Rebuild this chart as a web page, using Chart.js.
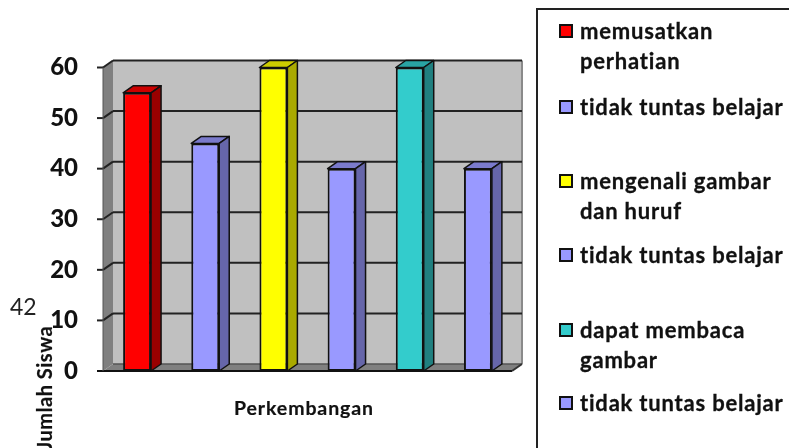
<!DOCTYPE html>
<html>
<head>
<meta charset="utf-8">
<style>
  html, body { margin: 0; padding: 0; background: #fff; }
  #wrap { position: relative; width: 789px; height: 448px; overflow: hidden; font-family: Lato, sans-serif; color: #111; filter: blur(0.4px); }
  #chart { position: absolute; left: 0; top: 0; }
  #legend { position: absolute; left: 536px; top: 8px; width: 300px; height: 500px; border: 2px solid #222; box-sizing: border-box; }
  .item { position: absolute; left: 580px; font-weight: 700; font-size: 22px; line-height: 30px; letter-spacing: 0.8px; white-space: pre; -webkit-text-stroke: 0.3px #111; }
  .swatch { position: absolute; left: 559px; width: 14px; height: 14px; border: 2px solid #111; box-sizing: border-box; }
  #stray { position: absolute; left: 10px; top: 292px; font-size: 23px; line-height: 28px; color: #222; }
  #ytitle { position: absolute; left: 44px; top: 388px; font-weight: 700; font-size: 20px; letter-spacing: 0.5px; white-space: pre; transform: translate(-50%, -50%) rotate(-90deg); -webkit-text-stroke: 0.2px #111; }
  #xtitle { position: absolute; left: 304px; top: 407px; font-weight: 700; font-size: 19.5px; letter-spacing: 0.9px; white-space: pre; transform: translate(-50%, -50%); -webkit-text-stroke: 0.2px #111; }
</style>
</head>
<body>
<div id="wrap">
  <canvas id="chart" width="789" height="448"></canvas>
  <div id="legend"></div>
  <div id="stray">42</div>
  <div id="ytitle">Jumlah Siswa</div>
  <div id="xtitle">Perkembangan</div>
</div>
<script src="https://cdn.jsdelivr.net/npm/chart.js@4/dist/chart.umd.min.js"></script>
<script>
// Values
const categories = ['memusatkan perhatian', 'tidak tuntas belajar', 'mengenali gambar dan huruf', 'tidak tuntas belajar', 'dapat membaca gambar', 'tidak tuntas belajar'];
const siswa = [55, 45, 60, 40, 60, 40];
const legendLines = [['memusatkan', 'perhatian'], ['tidak tuntas belajar'], ['mengenali gambar', 'dan huruf'], ['tidak tuntas belajar'], ['dapat membaca', 'gambar'], ['tidak tuntas belajar']];

// Colours for front, top and side of each bar
const frontColors = ['#FF0000', '#9999FF', '#FFFF00', '#9999FF', '#33CCCC', '#9999FF'];
const topColors = ['#CC0000', '#7A7ACC', '#CCCC00', '#7A7ACC', '#29A3A3', '#7A7ACC'];
const sideColors = ['#990000', '#6666AA', '#AAAA00', '#6666AA', '#208080', '#6666AA'];
const legendTops = [16, 92, 166, 240, 315, 388];

const depthX = 10;
const depthY = 7;

function poly(ctx, pts, fill, stroke, lw) {
    ctx.beginPath();
    pts.forEach(function (p, i) {
        if (i === 0) ctx.moveTo(p[0], p[1]); else ctx.lineTo(p[0], p[1]);
    });
    ctx.closePath();
    if (fill) { ctx.fillStyle = fill; ctx.fill(); }
    if (stroke) { ctx.strokeStyle = stroke; ctx.lineWidth = lw; ctx.stroke(); }
}

function line(ctx, x1, y1, x2, y2, color, lw) {
    ctx.beginPath();
    ctx.moveTo(x1, y1);
    ctx.lineTo(x2, y2);
    ctx.strokeStyle = color;
    ctx.lineWidth = lw;
    ctx.stroke();
}

// Back wall, left wall, floor and grid lines
const wallsPlugin = {
    id: 'walls',
    beforeDatasetsDraw: function (chart) {
        const ctx = chart.ctx;
        const a = chart.chartArea;
        const y = chart.scales.y;
        const backL = a.left + depthX;
        const backR = a.right + depthX;
        ctx.save();
        poly(ctx, [[backL, a.top - depthY], [backR, a.top - depthY], [backR, a.bottom - depthY], [backL, a.bottom - depthY]], '#C0C0C0');
        line(ctx, backR, a.top - depthY, backR, a.bottom - depthY, '#8A8A8A', 2);
        poly(ctx, [[a.left, a.top], [backL, a.top - depthY], [backL, a.bottom - depthY], [a.left, a.bottom]], '#808080');
        poly(ctx, [[a.left, a.bottom], [backL, a.bottom - depthY], [backR, a.bottom - depthY], [a.right, a.bottom]], '#808080');
        y.ticks.forEach(function (t) {
            const py = y.getPixelForValue(t.value);
            if (t.value > 0) {
                line(ctx, a.left, py, backL, py - depthY, '#222', 2);
                line(ctx, backL, py - depthY, backR, py - depthY, '#222', 2);
            }
            line(ctx, a.left - 6, py, a.left, py, '#222', 2);
        });
        line(ctx, backL, a.bottom - depthY, backR, a.bottom - depthY, '#555', 1.5);
        line(ctx, a.left - 6, a.bottom, a.right, a.bottom, '#111', 2);
        line(ctx, a.right, a.bottom, backR, a.bottom - depthY, '#333', 2);
        line(ctx, a.left, a.top, a.left, a.bottom, '#555', 1);
        ctx.restore();
    },
    // Top and side of each bar, taken from the bar elements
    afterDatasetsDraw: function (chart) {
        const ctx = chart.ctx;
        ctx.save();
        ctx.lineJoin = 'round';
        chart.getDatasetMeta(0).data.forEach(function (bar, i) {
            const l = bar.x - bar.width / 2;
            const r = bar.x + bar.width / 2;
            const t = bar.y;
            const b = bar.base;
            poly(ctx, [[l, t], [l + depthX, t - depthY], [r + depthX, t - depthY], [r, t]], topColors[i], '#111', 1.5);
            poly(ctx, [[r, t], [r + depthX, t - depthY], [r + depthX, b - depthY], [r, b]], sideColors[i], '#111', 1.5);
        });
        ctx.restore();
    }
};

new Chart(document.getElementById('chart'), {
    type: 'bar',
    data: {
        labels: categories,
        datasets: [{
            label: 'Jumlah Siswa',
            data: siswa,
            backgroundColor: frontColors,
            borderColor: '#111',
            borderWidth: 2,
            borderSkipped: false,
            categoryPercentage: 1,
            barPercentage: 0.41
        }]
    },
    options: {
        responsive: false,
        animation: false,
        layout: { padding: { left: 0, right: 277, top: 67.5, bottom: 0 } },
        plugins: { legend: { display: false }, tooltip: { enabled: false } },
        scales: {
            x: {
                grid: { display: false },
                border: { display: false },
                ticks: { display: false },
                afterFit: function (scale) { scale.height = 77; }
            },
            y: {
                min: 0,
                max: 60,
                grid: { display: false },
                border: { display: false },
                ticks: {
                    stepSize: 10,
                    padding: 17,
                    color: '#111',
                    font: { family: 'Lato', weight: '900', size: 24 }
                },
                afterFit: function (scale) { scale.width = 103; }
            }
        }
    },
    plugins: [wallsPlugin]
});

// Legend as page text
const wrap = document.getElementById('wrap');
legendLines.forEach(function (lines, i) {
    const item = document.createElement('div');
    item.className = 'item';
    item.style.top = legendTops[i] + 'px';
    item.textContent = lines.join('\n');
    wrap.appendChild(item);
    const sw = document.createElement('div');
    sw.className = 'swatch';
    sw.style.top = (legendTops[i] + 8) + 'px';
    sw.style.background = frontColors[i];
    wrap.appendChild(sw);
});
</script>
</body>
</html>
